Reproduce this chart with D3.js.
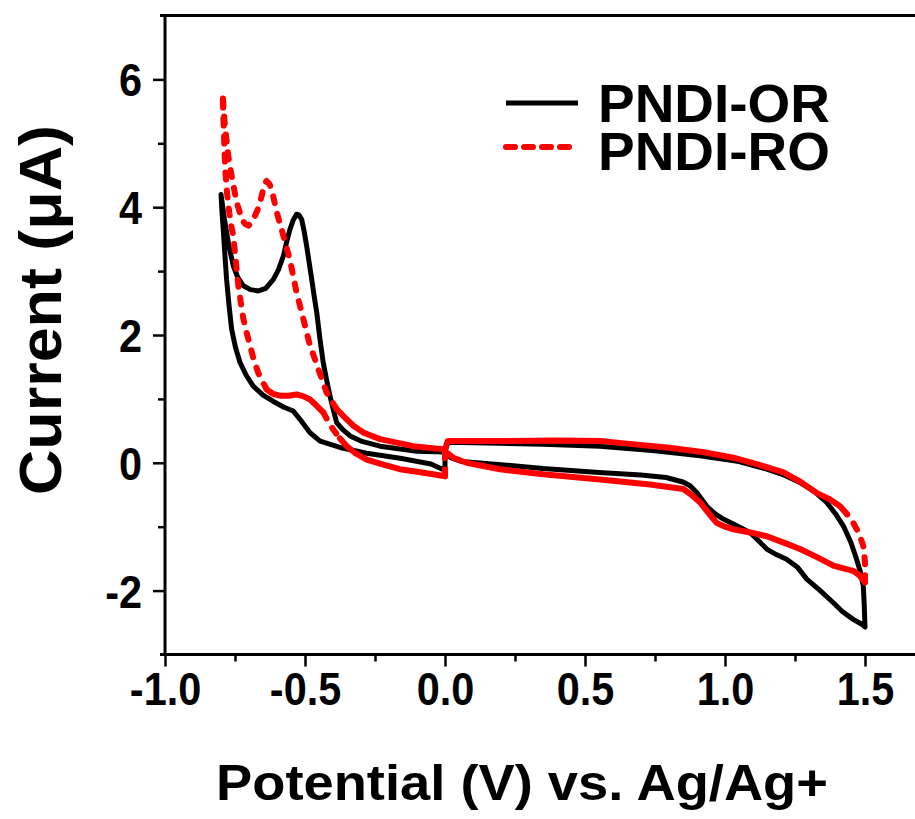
<!DOCTYPE html>
<html>
<head>
<meta charset="utf-8">
<script src="https://cdn.jsdelivr.net/npm/d3@7"></script>
<style>
  html, body { margin: 0; padding: 0; background: #fff; }
  svg { display: block; font-family: "Liberation Sans", Arial, sans-serif; font-weight: bold; }
</style>
</head>
<body>
<svg id="chart" width="915" height="819"></svg>
<script>
// PNDI-OR cycle (black), potential in V, current in µA
const potentialOR = [
  0.0, 0.02, 0.06, 0.2, 0.35, 0.55, 0.7, 0.79, 0.85, 0.875, 0.9, 0.935, 0.965, 0.994, 1.04, 1.089, 1.12, 1.149,
  1.185, 1.22, 1.26, 1.292, 1.34, 1.387, 1.42, 1.458, 1.49, 1.5,
  1.497, 1.494, 1.483, 1.47, 1.45, 1.423, 1.395, 1.363, 1.32, 1.268, 1.21, 1.149, 1.05, 0.911, 0.75, 0.554,
  0.35, 0.15, 0.01, 0.0,
  -0.101, -0.232, -0.3, -0.339, -0.365, -0.387, -0.4, -0.411, -0.423, -0.435, -0.447, -0.458, -0.467, -0.476,
  -0.485, -0.494, -0.503, -0.512, -0.522, -0.53, -0.542, -0.554, -0.566, -0.577, -0.595, -0.613, -0.64, -0.667,
  -0.695, -0.72, -0.74, -0.756, -0.772, -0.786, -0.8,
  -0.796, -0.792, -0.786, -0.78, -0.771, -0.762, -0.748, -0.732, -0.71, -0.685, -0.65, -0.613, -0.575, -0.542,
  -0.518, -0.482, -0.446, -0.375, -0.28, -0.16, -0.05, 0.0, 0.0
];
const currentOR = [
  0.17, 0.08, 0.02, -0.03, -0.09, -0.15, -0.19, -0.23, -0.3, -0.36, -0.47, -0.68, -0.8, -0.88, -0.98, -1.09, -1.22, -1.35,
  -1.44, -1.51, -1.64, -1.82, -2.0, -2.19, -2.33, -2.45, -2.53, -2.57,
  -2.2, -1.93, -1.7, -1.51, -1.25, -0.99, -0.8, -0.62, -0.45, -0.31, -0.19, -0.1, 0.02, 0.11, 0.19, 0.26,
  0.29, 0.31, 0.32, 0.17,
  0.18, 0.26, 0.34, 0.42, 0.52, 0.63, 0.85, 1.05, 1.3, 1.57, 1.95, 2.35, 2.6, 2.87,
  3.13, 3.39, 3.62, 3.81, 3.88, 3.89, 3.8, 3.65, 3.45, 3.24, 3.02, 2.87, 2.73, 2.69,
  2.71, 2.77, 2.9, 3.08, 3.4, 3.76, 4.2,
  3.9, 3.65, 3.25, 2.87, 2.45, 2.09, 1.8, 1.57, 1.37, 1.2, 1.06, 0.96, 0.87, 0.81,
  0.68, 0.47, 0.34, 0.24, 0.15, 0.07, -0.02, -0.12, 0.17
];

// PNDI-RO cycle (red)
const potentialRO = [
  0.0, 0.03, 0.077, 0.196, 0.35, 0.554, 0.732, 0.851, 0.88, 0.911, 0.94, 0.97, 1.0, 1.03, 1.09, 1.149, 1.21, 1.268,
  1.33, 1.387, 1.43, 1.458, 1.48, 1.5,
  1.5, 1.494, 1.478, 1.458, 1.435, 1.411, 1.37, 1.327, 1.27, 1.209, 1.12, 1.03, 0.92, 0.792, 0.65, 0.554, 0.4,
  0.2, 0.01, 0.0,
  -0.113, -0.232, -0.29, -0.327, -0.36, -0.387, -0.405, -0.423, -0.437, -0.452, -0.467, -0.482, -0.494, -0.506,
  -0.518, -0.53, -0.542, -0.554, -0.566, -0.577, -0.589, -0.601, -0.61, -0.619, -0.628, -0.637, -0.645, -0.655,
  -0.664, -0.673, -0.688, -0.702, -0.714, -0.726, -0.735, -0.744, -0.753, -0.762, -0.768, -0.774, -0.78, -0.786,
  -0.79, -0.794,
  -0.79, -0.785, -0.778, -0.77, -0.763, -0.756, -0.747, -0.738, -0.729, -0.72, -0.708, -0.696, -0.682, -0.667,
  -0.652, -0.637, -0.615, -0.589, -0.56, -0.53, -0.505, -0.482, -0.46, -0.435, -0.417, -0.399, -0.375, -0.351,
  -0.32, -0.28, -0.22, -0.161, -0.1, -0.042, 0.0, 0.0
];
const currentRO = [
  0.18, 0.08, 0.0, -0.1, -0.18, -0.26, -0.34, -0.41, -0.5, -0.62, -0.78, -0.94, -1.0, -1.04, -1.09, -1.15, -1.25, -1.35,
  -1.48, -1.61, -1.66, -1.69, -1.76, -1.87,
  -1.56, -1.3, -1.1, -0.94, -0.8, -0.68, -0.56, -0.47, -0.3, -0.15, -0.03, 0.08, 0.17, 0.24, 0.3, 0.34, 0.35,
  0.34, 0.34, 0.21,
  0.26, 0.37, 0.47, 0.58, 0.72, 0.84, 0.97, 1.1, 1.28, 1.46, 1.65, 1.83, 2.04, 2.25,
  2.46, 2.66, 2.92, 3.18, 3.37, 3.55, 3.74, 3.92, 4.1, 4.28, 4.37, 4.41, 4.36, 4.17,
  4.02, 3.92, 3.78, 3.71, 3.74, 3.81, 3.95, 4.07, 4.28, 4.49, 4.65, 4.8, 5.04, 5.27,
  5.5, 5.77,
  5.2, 4.6, 4.2, 3.9, 3.7, 3.55, 3.15, 2.77, 2.5, 2.25, 2.03, 1.83, 1.6, 1.41,
  1.27, 1.15, 1.08, 1.05, 1.05, 1.07, 1.04, 0.99, 0.9, 0.79, 0.65, 0.52, 0.38, 0.26,
  0.15, 0.05, -0.03, -0.1, -0.14, -0.18, -0.21, 0.18
];

const seriesNames = ['PNDI-OR', 'PNDI-RO'];
const seriesColors = ['#000000', '#ff0000'];
const xMajorTicks = [-1.0, -0.5, 0.0, 0.5, 1.0, 1.5];
const xMinorTicks = [-0.75, -0.25, 0.25, 0.75, 1.25, 1.75];
const yMajorTicks = [-2, 0, 2, 4, 6];
const yMinorTicks = [-1, 1, 3, 5];
const xTitle = 'Potential (V) vs. Ag/Ag+';
const yTitle = 'Current (μA)';

const svg = d3.select('#chart');
const plotLeft = 165, plotTop = 15.5, plotBottom = 654.5;

const x = d3.scaleLinear().domain([-1, 1.8]).range([plotLeft, plotLeft + 2.8 * 280]);
const y = d3.scaleLinear().domain([-3, 7]).range([plotBottom, plotTop]);

const noMinus = (s) => s.replace('\u2212', '-');

// the original figure uses a slightly narrowed bold sans
function narrow(sel, k) {
  sel.each(function () {
    const w = this.getComputedTextLength();
    d3.select(this).attr('textLength', w * k).attr('lengthAdjust', 'spacingAndGlyphs');
  });
}

/* ---------- axes ---------- */
const xAxis = svg.append('g').attr('transform', `translate(0,${plotBottom})`)
  .call(d3.axisBottom(x).tickValues(xMajorTicks).tickSize(12).tickPadding(6)
    .tickFormat((d) => noMinus(d3.format('.1f')(d))));
svg.append('g').attr('transform', `translate(0,${plotBottom})`)
  .call(d3.axisBottom(x).tickValues(xMinorTicks).tickSize(7).tickFormat(''));

const yAxis = svg.append('g').attr('transform', `translate(${plotLeft},0)`)
  .call(d3.axisLeft(y).tickValues(yMajorTicks).tickSize(12).tickPadding(11)
    .tickFormat((d) => noMinus(d3.format('d')(d))));
svg.append('g').attr('transform', `translate(${plotLeft},0)`)
  .call(d3.axisLeft(y).tickValues(yMinorTicks).tickSize(7).tickFormat(''));

svg.selectAll('.domain').remove();
svg.selectAll('.tick line').attr('stroke', '#000').attr('stroke-width', 2.5);
svg.selectAll('.tick text')
  .attr('fill', '#000')
  .style('font-size', '46px')
  .style('font-family', '"Liberation Sans", Arial, sans-serif')
  .style('font-weight', 'bold');
yAxis.selectAll('.tick text').attr('dy', '0.36em');
narrow(xAxis.selectAll('.tick text'), 0.9);
narrow(yAxis.selectAll('.tick text'), 0.9);

// frame: left, bottom and top lines (right side is outside the picture)
const frame = svg.append('g').attr('stroke', '#000').attr('stroke-width', 3);
frame.append('line').attr('x1', plotLeft).attr('x2', plotLeft).attr('y1', plotTop - 1.5).attr('y2', plotBottom + 1.5);
frame.append('line').attr('x1', plotLeft - 5).attr('x2', 915).attr('y1', plotBottom).attr('y2', plotBottom);
frame.append('line').attr('x1', plotLeft - 5).attr('x2', 915).attr('y1', plotTop).attr('y2', plotTop);

/* ---------- titles ---------- */
svg.append('text')
  .attr('x', 522).attr('y', 800)
  .attr('text-anchor', 'middle')
  .attr('textLength', 612).attr('lengthAdjust', 'spacingAndGlyphs')
  .style('font-size', '50px')
  .text(xTitle);

svg.append('text')
  .attr('transform', 'translate(61,310) rotate(-90)')
  .attr('text-anchor', 'middle')
  .attr('textLength', 370).attr('lengthAdjust', 'spacingAndGlyphs')
  .style('font-size', '60px')
  .text(yTitle);

/* ---------- curves ---------- */
const line = d3.line().curve(d3.curveLinear);

function drawSolid(vs, is, color) {
  const pts = vs.map((v, i) => [x(v), y(is[i])]);
  svg.append('path')
    .attr('d', line(pts))
    .attr('fill', 'none')
    .attr('stroke', color)
    .attr('stroke-width', 5)
    .attr('stroke-linejoin', 'round')
    .attr('stroke-linecap', 'round');
}

// dashed series: steep stretches show their dashes, flat stretches look solid
function drawDashed(vs, is, color) {
  const pts = vs.map((v, i) => [x(v), y(is[i])]);
  const runs = [];
  let cur = [pts[0]];
  let steep = null;
  for (let i = 1; i < pts.length; i++) {
    const dx = pts[i][0] - pts[i - 1][0];
    const dy = pts[i][1] - pts[i - 1][1];
    const s = Math.abs(dy) > 1.3 * Math.abs(dx);
    if (steep === null) steep = s;
    if (s !== steep) {
      runs.push({ pts: cur, steep });
      cur = [pts[i - 1]];
      steep = s;
    }
    cur.push(pts[i]);
  }
  runs.push({ pts: cur, steep });

  // merge short runs into their neighbour so dashes are not broken up
  const runLen = (r) => d3.sum(r.pts.slice(1), (p, k) => Math.hypot(p[0] - r.pts[k][0], p[1] - r.pts[k][1]));
  const merged = [];
  runs.forEach((r) => {
    const prev = merged[merged.length - 1];
    if (prev && (runLen(r) < 22 || prev.steep === r.steep)) {
      prev.pts = prev.pts.concat(r.pts.slice(1));
    } else {
      merged.push({ pts: r.pts.slice(), steep: r.steep });
    }
  });

  merged.forEach((r) => {
    svg.append('path')
      .attr('d', line(r.pts))
      .attr('fill', 'none')
      .attr('stroke', color)
      .attr('stroke-width', 6)
      .attr('stroke-linejoin', 'round')
      .attr('stroke-linecap', 'round')
      .attr('stroke-dasharray', r.steep ? '7,11' : null);
  });
}

drawSolid(potentialOR, currentOR, seriesColors[0]);
drawDashed(potentialRO, currentRO, seriesColors[1]);

/* ---------- legend ---------- */
const legend = svg.append('g');
seriesNames.forEach((name, i) => {
  const ly = 103 + i * 44;
  legend.append('line')
    .attr('x1', 506).attr('x2', 578).attr('y1', ly).attr('y2', ly)
    .attr('stroke', seriesColors[i])
    .attr('stroke-width', i === 0 ? 5 : 6)
    .attr('stroke-linecap', i === 0 ? 'butt' : 'round')
    .attr('stroke-dasharray', i === 0 ? null : '9,9');
  legend.append('text')
    .attr('x', 598).attr('y', 121.5 + i * 48.5)
    .attr('textLength', 232).attr('lengthAdjust', 'spacingAndGlyphs')
    .style('font-size', '54px')
    .text(name);
});
</script>
</body>
</html>
